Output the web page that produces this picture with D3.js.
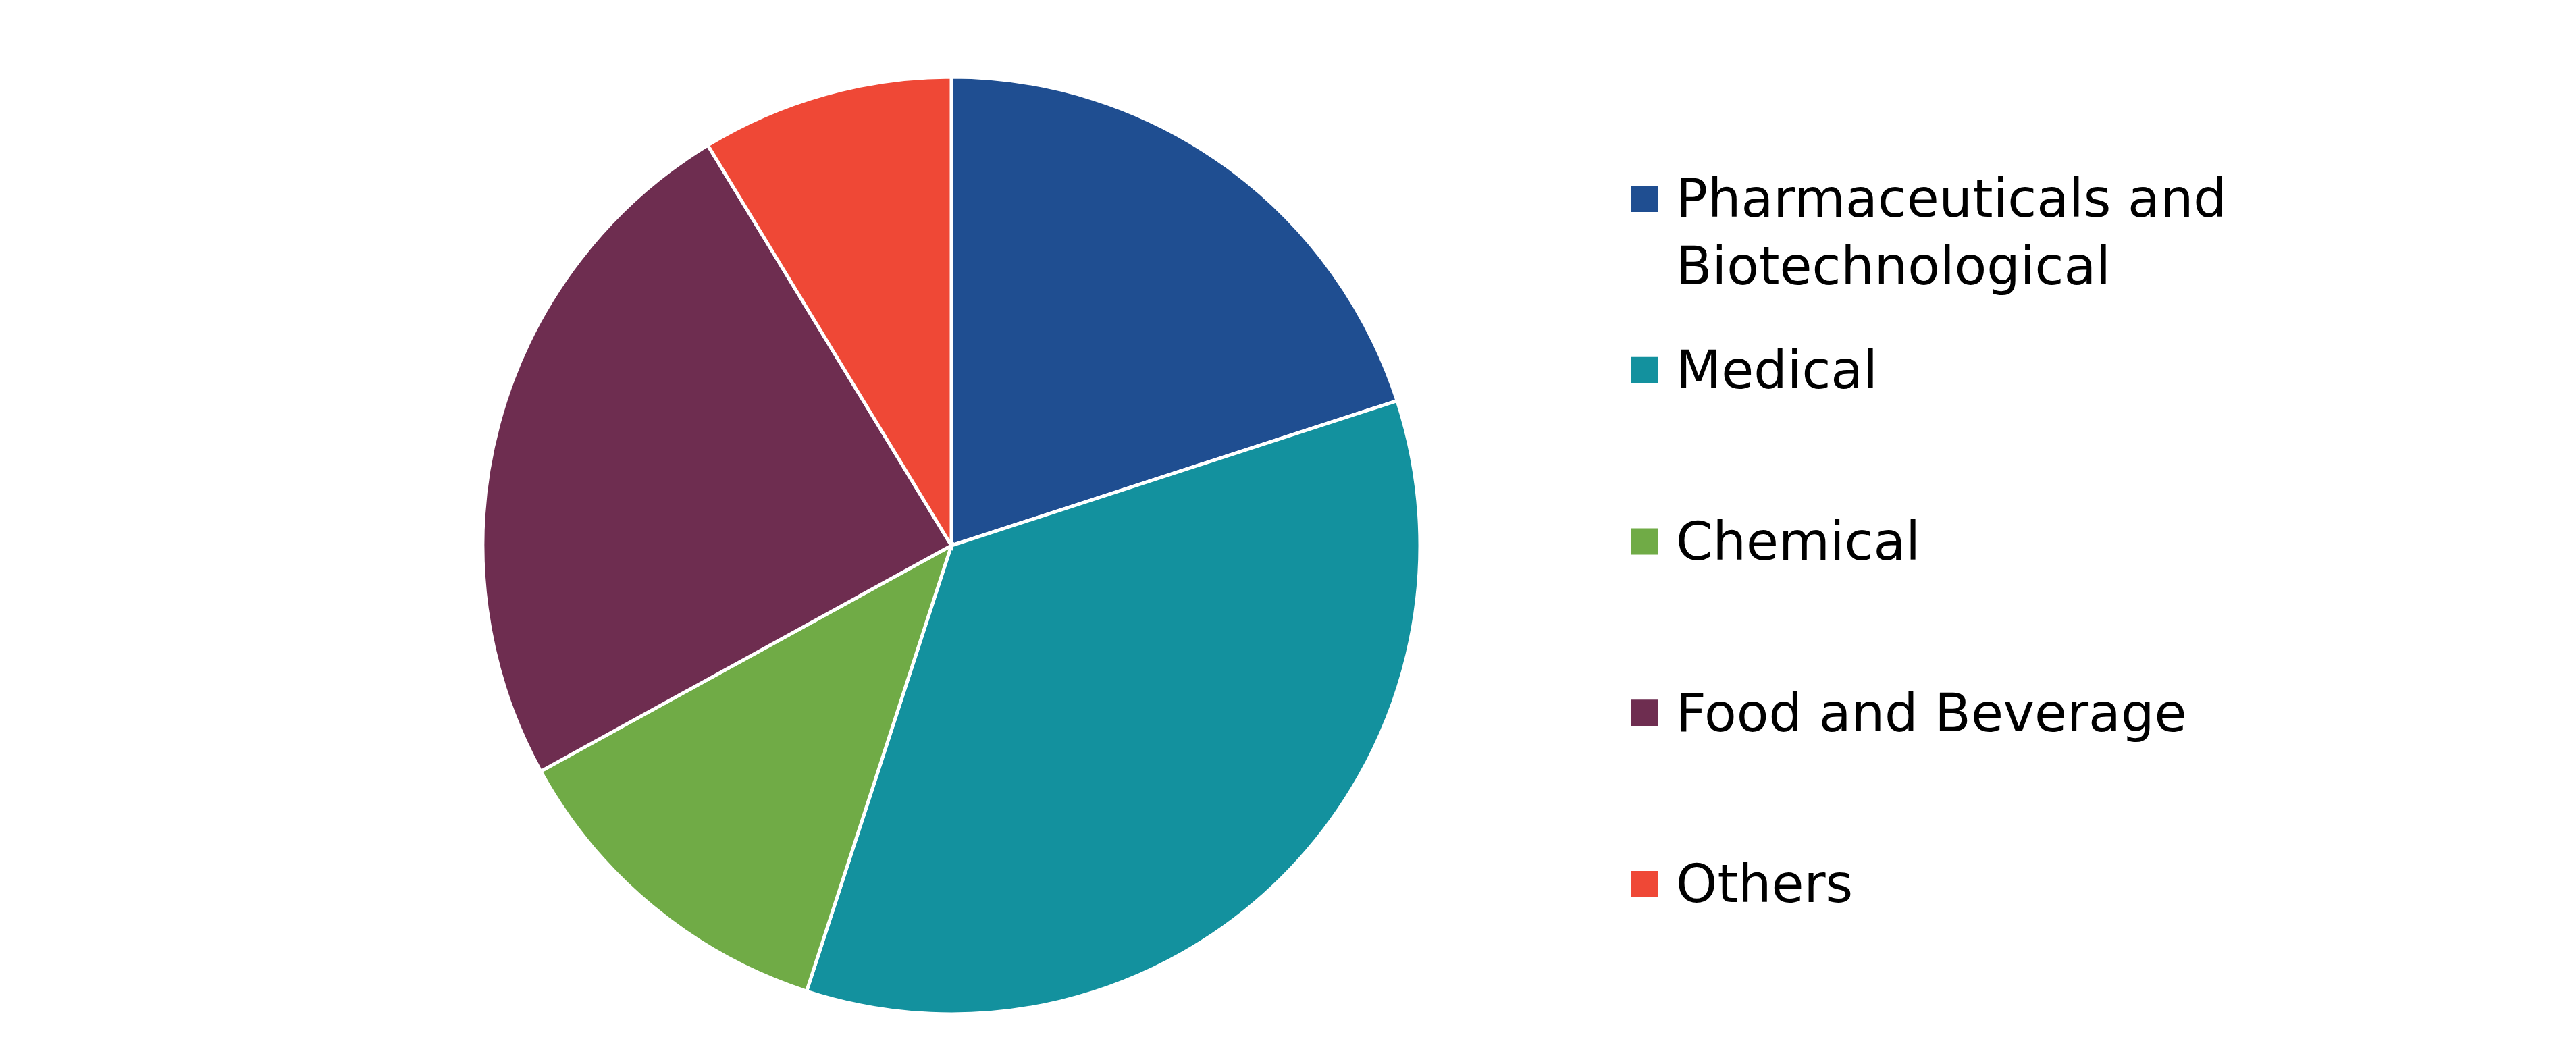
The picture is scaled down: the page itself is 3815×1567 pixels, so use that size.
<!DOCTYPE html>
<html>
<head>
<meta charset="utf-8">
<script src="https://cdn.jsdelivr.net/npm/d3@7"></script>
<style>
  body { margin: 0; background: #fff; }
  svg { display: block; }
</style>
</head>
<body>
<svg id="chart" width="3815" height="1567"></svg>
<script>
// values (share of total, %)
const categories = ["Pharmaceuticals and Biotechnological", "Medical", "Chemical", "Food and Beverage", "Others"];
const legendLines = [["Pharmaceuticals and", "Biotechnological"], ["Medical"], ["Chemical"], ["Food and Beverage"], ["Others"]];
const shares = [20, 35, 12, 24.3, 8.7];
const colors = ["#1F4E91", "#13919E", "#70AB46", "#6E2D50", "#EF4836"];

const svg = d3.select("#chart");
const cx = 1409, cy = 808, radius = 694;

const pie = d3.pie().sort(null).value(d => d.value);
const arc = d3.arc().innerRadius(0).outerRadius(radius);
const data = categories.map((c, i) => ({ name: c, value: shares[i] }));

svg.append("g")
    .attr("transform", `translate(${cx},${cy})`)
    .selectAll("path")
    .data(pie(data))
    .join("path")
    .attr("d", arc)
    .attr("fill", (d, i) => colors[i])
    .attr("stroke", "#fff")
    .attr("stroke-width", 5);

// legend
const legendY = d3.scalePoint().domain(categories).range([294, 1309]);
const legend = svg.append("g").selectAll("g")
    .data(categories)
    .join("g")
    .attr("transform", d => `translate(2416,${legendY(d)})`);

legend.append("rect")
    .attr("x", 0).attr("y", -19)
    .attr("width", 39).attr("height", 39)
    .attr("fill", (d, i) => colors[i]);

legend.append("text")
    .attr("x", 66)
    .attr("font-family", "Verdana, 'DejaVu Sans', sans-serif")
    .attr("font-size", 78)
    .attr("fill", "#000")
    .selectAll("tspan")
    .data((d, i) => legendLines[i])
    .join("tspan")
    .attr("x", 66)
    .attr("dy", (d, j) => j === 0 ? "0.35em" : "1.28em")
    .text(d => d);
</script>
</body>
</html>
